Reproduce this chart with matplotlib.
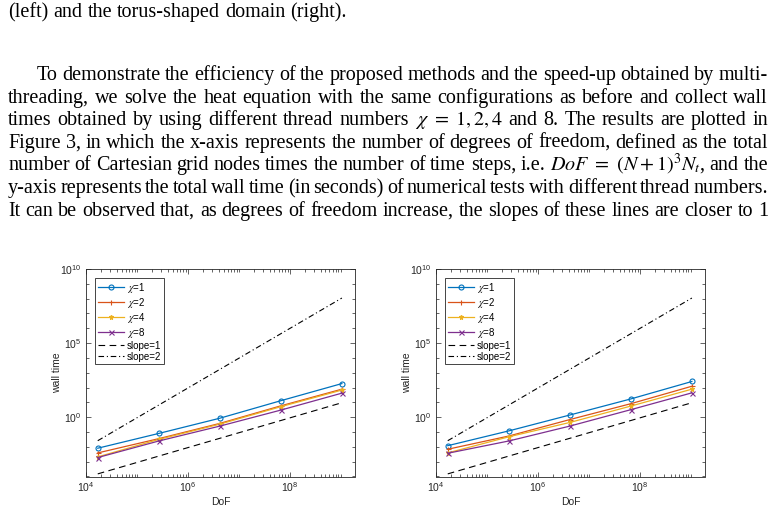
import numpy as np
import matplotlib
matplotlib.use("Agg")
import matplotlib.pyplot as plt
from matplotlib.ticker import FixedLocator, LogLocator, NullFormatter

plt.rcParams['mathtext.fontset'] = 'stix'

# ---- data ----
dof = [1.7e4, 2.7e5, 4.2e6, 6.6e7, 1.05e9]

left_t1 = [8.1e-3, 8.1e-2, 0.85, 12.9, 186]
left_t2 = [3.9e-3, 3.6e-2, 0.38, 5.8, 78]
left_t4 = [2.1e-3, 3.2e-2, 0.34, 5.1, 68]
left_t8 = [1.9e-3, 2.5e-2, 0.25, 3.0, 42]

right_t1 = [1.2e-2, 0.12, 1.4, 17, 257]
right_t2 = [6.9e-3, 5.4e-2, 0.69, 8.1, 123]
right_t4 = [3.9e-3, 4.8e-2, 0.44, 5.6, 78]
right_t8 = [3.7e-3, 2.5e-2, 0.25, 3.2, 44]

ref_dof = [1.7e4, 1.05e9]
slope1 = [1.5e-4, 9.5]
slope2 = [2.6e-2, 1.1e8]

labels = [r'$\chi$=1', r'$\chi$=2', r'$\chi$=4', r'$\chi$=8', 'slope=1', 'slope=2']
xtick_vals = [1e4, 1e6, 1e8]
xtick_labels = [r'$\mathregular{10^{4}}$', r'$\mathregular{10^{6}}$', r'$\mathregular{10^{8}}$']
ytick_vals = [1e0, 1e5, 1e10]
ytick_labels = [r'$\mathregular{10^{0}}$', r'$\mathregular{10^{5}}$', r'$\mathregular{10^{10}}$']

caption_tail = "(left) and the torus-shaped domain (right)."
paragraph = [
    "To demonstrate the efficiency of the proposed methods and the speed-up obtained by multi-",
    "threading, we solve the heat equation with the same configurations as before and collect wall",
    r"times obtained by using different thread numbers $\chi\ =\ 1,2,4$ and 8. The results are plotted in",
    "Figure 3, in which the x-axis represents the number of degrees of freedom, defined as the total",
    r"number of Cartesian grid nodes times the number of time steps, i.e. $DoF\ =\ (N+1)^3N_t$, and the",
    "y-axis represents the total wall time (in seconds) of numerical tests with different thread numbers.",
    "It can be observed that, as degrees of freedom increase, the slopes of these lines are closer to 1",
]

W, H = 778, 513
colors = ['#0072BD', '#D95319', '#EDB120', '#7E2F8E']
markers = ['o', '+', '*', 'x']
axcol = '#262626'
sans = 'Liberation Sans'
serif = 'Liberation Serif'

fig = plt.figure(figsize=(W / 100, H / 100), dpi=100)
renderer = fig.canvas.get_renderer()


def split_words(line):
    # split on spaces outside of $...$
    tokens, cur, inmath = [], '', False
    for ch in line:
        if ch == '$':
            inmath = not inmath
        if ch == ' ' and not inmath:
            if cur:
                tokens.append(cur)
            cur = ''
        else:
            cur += ch
    if cur:
        tokens.append(cur)
    return tokens


def natural_width(line, size):
    words = split_words(line)
    ts = [fig.text(0, 0, w, fontsize=size, family=serif) for w in words]
    tot = sum(t.get_window_extent(renderer).width for t in ts)
    for t in ts:
        t.remove()
    return tot + (len(words) - 1) * 0.25 * size * 100 / 72


def put_line(line, y, x0, x1, size, justify=True):
    tokens = split_words(line)
    texts = [fig.text(0, 1 - y / H, t, fontsize=size, family=serif,
                      va='baseline', ha='left') for t in tokens]
    widths = [t.get_window_extent(renderer).width for t in texts]
    if justify and len(texts) > 1:
        gap = (x1 - x0 - sum(widths)) / (len(texts) - 1)
    else:
        gap = size * 100 / 72 * 0.25
    x = x0
    for t, w in zip(texts, widths):
        t.set_x(x / W)
        x += w + gap


# pick the body font size so that justified lines need little stretching
ratios = []
for i, line in enumerate(paragraph[1:6]):
    ratios.append((768 - 8) / natural_width(line, 13))
body_size = 13 * float(np.median(ratios))

put_line(caption_tail, 17, 8, 770, body_size, justify=False)
base = 80
step = 22.6
for i, line in enumerate(paragraph):
    x0 = 37 if i == 0 else 8
    put_line(line, base + i * step, x0, 768, body_size)

panels = [
    (86, [left_t1, left_t2, left_t4, left_t8]),
    (436, [right_t1, right_t2, right_t4, right_t8]),
]

for left_px, series in panels:
    ax = fig.add_axes([left_px / W, 1 - 476.5 / H, 269 / W, 207.5 / H])
    for s, c, m, lab in zip(series, colors, markers, labels[:4]):
        ax.loglog(dof, s, '-', color=c, marker=m, ms=3.6,
                  mfc='none' if m == 'o' else c, mew=0.8, lw=0.9, label=lab)
    ax.loglog(ref_dof, slope1, '--', color='k', lw=0.8, dashes=(6, 4), label=labels[4])
    ax.loglog(ref_dof, slope2, '-.', color='k', lw=0.8, dashes=(5, 2.5, 1, 2.5), label=labels[5])

    ax.set_xlim(1e4, 1.9e9)
    ax.set_ylim(1e-4, 1e10)
    ax.xaxis.set_major_locator(FixedLocator(xtick_vals))
    ax.set_xticklabels(xtick_labels)
    ax.yaxis.set_major_locator(FixedLocator(ytick_vals))
    ax.set_yticklabels(ytick_labels)
    ax.xaxis.set_minor_locator(LogLocator(base=10, subs=np.arange(1, 10), numticks=100))
    ax.yaxis.set_minor_locator(LogLocator(base=10, subs=[1.0], numticks=100))
    ax.xaxis.set_minor_formatter(NullFormatter())
    ax.yaxis.set_minor_formatter(NullFormatter())
    ax.tick_params(which='both', direction='in', top=True, right=True,
                   colors=axcol, width=0.5, labelsize=7.5, pad=3)
    ax.tick_params(which='major', length=3.5)
    ax.tick_params(which='minor', length=2)
    for lab in ax.get_xticklabels() + ax.get_yticklabels():
        lab.set_family(sans)
    for sp in ax.spines.values():
        sp.set_color(axcol)
        sp.set_linewidth(0.6)
    ax.set_xlabel('DoF', fontsize=7.5, family=sans, color=axcol, labelpad=2)
    ax.set_ylabel('wall time', fontsize=7.5, family=sans, color=axcol, labelpad=-1)

    leg = ax.legend(loc='upper left', prop={'family': sans, 'size': 7},
                    frameon=True, fancybox=False, framealpha=1, edgecolor=axcol,
                    handlelength=2.7, handletextpad=0.3, labelspacing=0.1,
                    borderpad=0.3, borderaxespad=0.9)
    leg.get_frame().set_linewidth(0.6)

fig.savefig('out.png', dpi=100)
